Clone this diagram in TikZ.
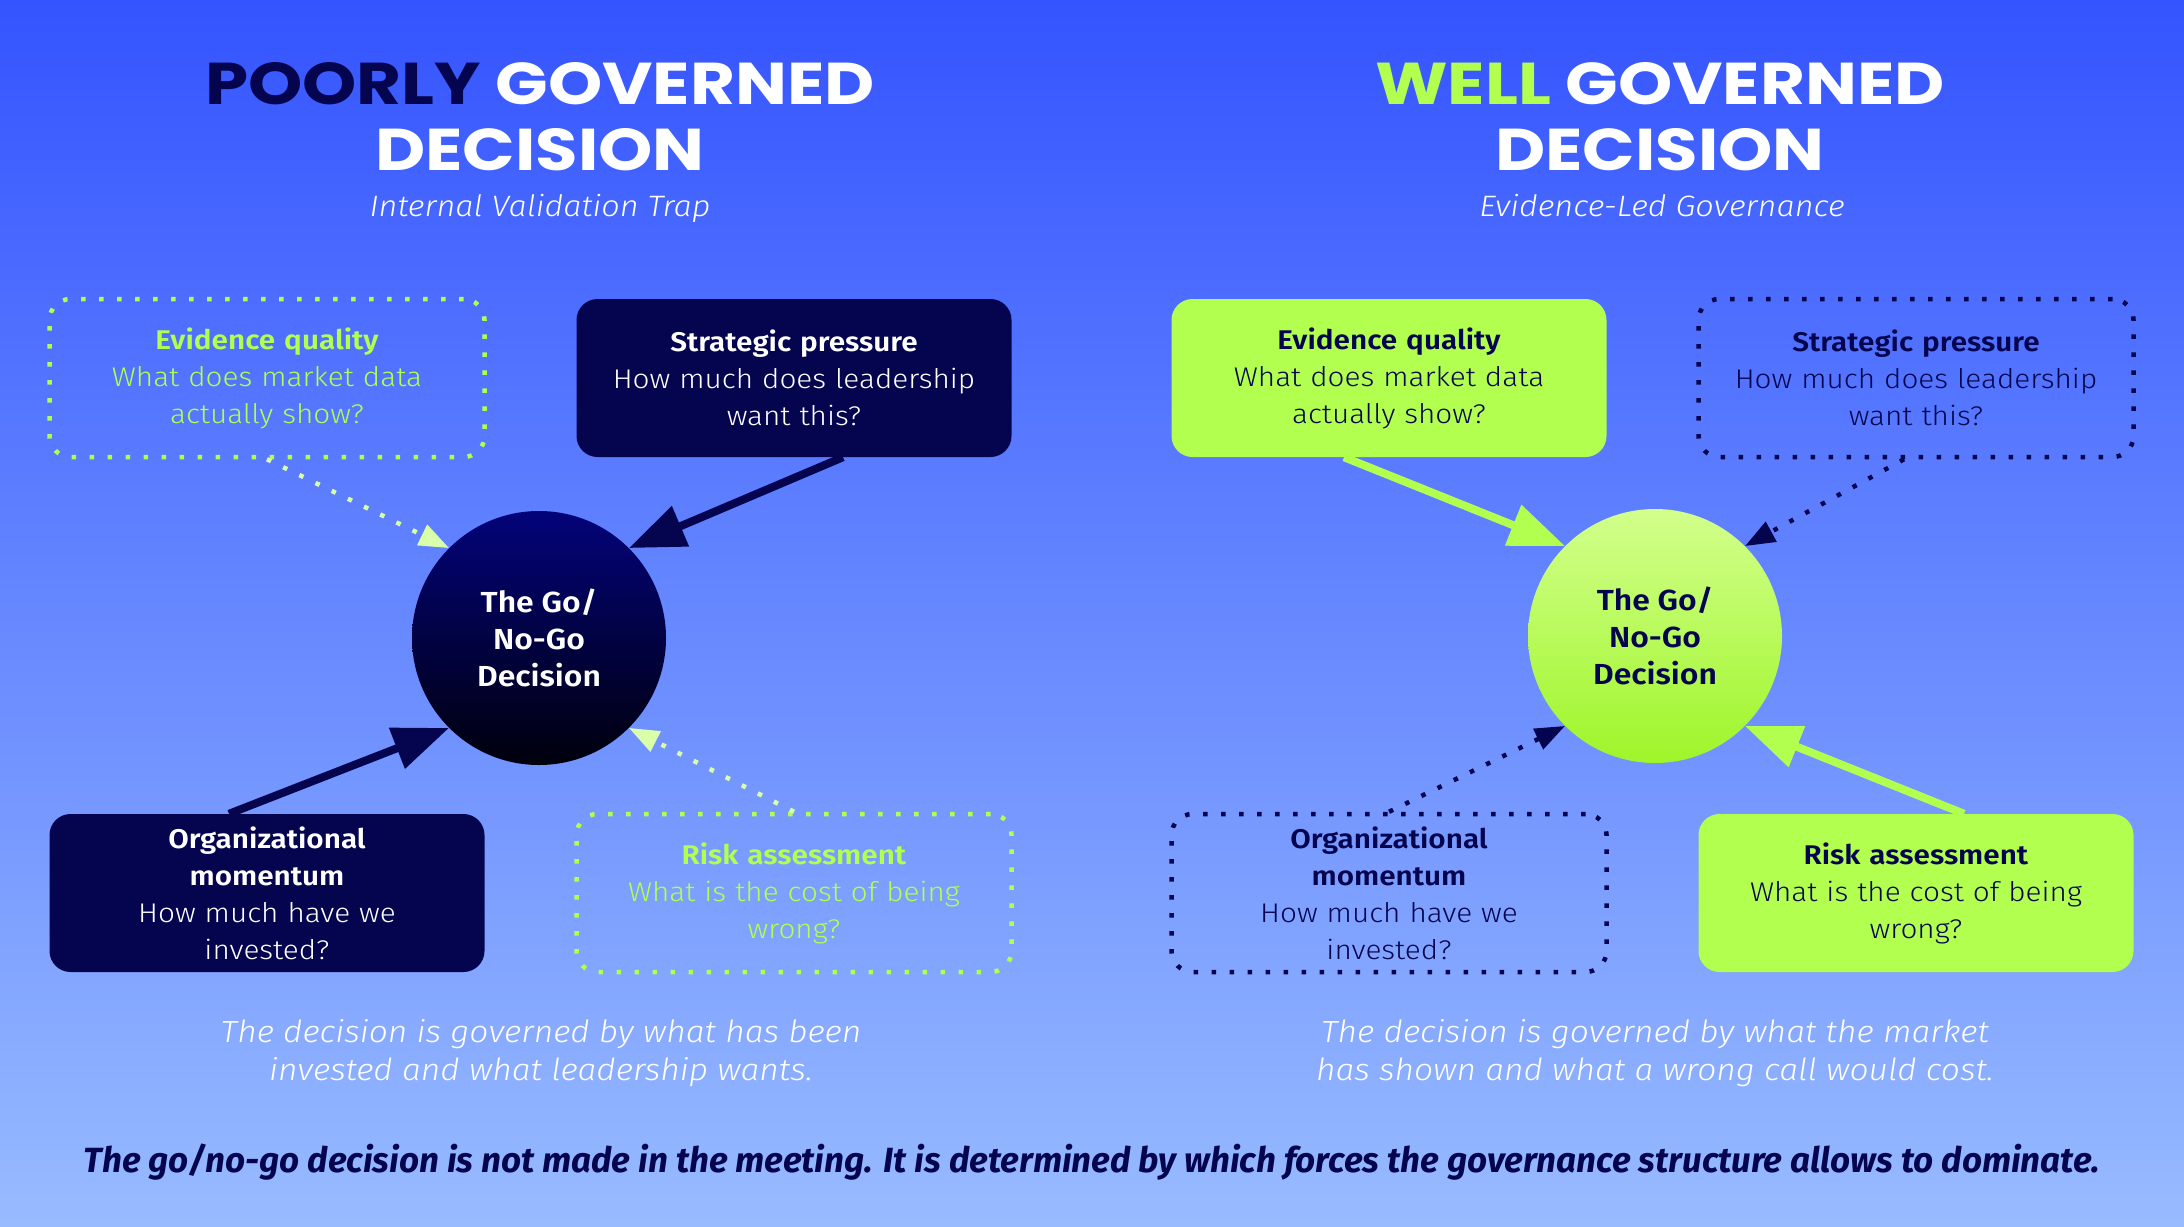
\documentclass[tikz,border=0pt]{standalone}
\usepackage{fontspec}
\setmainfont{Fira Sans}[UprightFont=* Light, ItalicFont=* Light Italic, BoldFont=* SemiBold, BoldItalicFont=* Bold Italic, FakeStretch=1.1]
\newfontfamily\footfont{Fira Sans}[BoldItalicFont=* Bold Italic]
\newfontfamily\titlefont{Poppins}[FakeStretch=1.17]
\usetikzlibrary{arrows.meta}
\definecolor{navy}{HTML}{05054F}
\definecolor{lime}{HTML}{B2FF4F}
\definecolor{palelime}{HTML}{DAFFAA}
\definecolor{bgtop}{HTML}{3454FF}
\definecolor{bgbot}{HTML}{98BBFF}
\definecolor{ctopdark}{HTML}{03037A}
\definecolor{cbotdark}{HTML}{00000C}
\definecolor{ctoplime}{HTML}{D2FF8C}
\definecolor{cbotlime}{HTML}{9FF52A}
\begin{document}
\begin{tikzpicture}[x=1pt,y=-1pt,
  boxbase/.style={rounded corners=21pt, minimum width=435pt, minimum height=158pt, inner sep=0pt, text width=420pt, align=center, font=\fontsize{27}{37}\selectfont},
  navybox/.style={boxbase, fill=navy, text=white},
  limebox/.style={boxbase, fill=lime, text=navy},
  dotlimebox/.style={boxbase, draw=lime, line width=4.5pt, dash pattern=on 4.5pt off 13.5pt, text=lime},
  dotnavybox/.style={boxbase, draw=navy, line width=4.5pt, dash pattern=on 4.5pt off 13.5pt, text=navy},
  decision/.style={circle, minimum size=254pt, inner sep=0pt, align=center, font=\bfseries\fontsize{29}{37}\selectfont},
  solidnavy/.style={draw=navy, line width=8pt, -{Triangle[length=56pt,width=42pt]}},
  solidlime/.style={draw=lime, line width=8pt, -{Triangle[length=56pt,width=42pt]}},
  dotpale/.style={draw=palelime, line width=4.5pt, dash pattern=on 4.5pt off 13.5pt, -{Triangle[length=30pt,width=22pt,fill=palelime]}},
  dotnavy/.style={draw=navy, line width=4.5pt, dash pattern=on 4.5pt off 13.5pt, -{Triangle[length=30pt,width=22pt,fill=navy]}},
  titletext/.style={anchor=base, inner sep=0pt, text=white, font=\titlefont\bfseries\fontsize{59}{59}\selectfont},
  subtitle/.style={anchor=base, inner sep=0pt, text=white, font=\itshape\fontsize{29.5}{34}\selectfont},
  summary/.style={inner sep=0pt, align=center, text=white, font=\itshape\fontsize{30.5}{38}\selectfont}
]
\shade[top color=bgtop, bottom color=bgbot] (0,0) rectangle (2184,1226);
\useasboundingbox (0,0) rectangle (2184,1226);

% Titles
\node[titletext] (lt1) at (540,104) {\textcolor{navy}{POORLY} GOVERNED};
\node[titletext] (lt2) at (540,170) {DECISION};
\node[subtitle] (lst) at (540,216) {Internal Validation Trap};
\node[titletext] (rt1) at (1660,104) {\textcolor{lime}{WELL} GOVERNED};
\node[titletext] (rt2) at (1660,170) {DECISION};
\node[subtitle] (rst) at (1662,216) {Evidence-Led Governance};

% Left side
\node[dotlimebox] (leq) at (267,378) {\textbf{Evidence quality}\\What does market data\\actually show?};
\node[navybox] (lsp) at (794,378) {\textbf{Strategic pressure}\\How much does leadership\\want this?};
\node[navybox] (lom) at (267,893) {\textbf{Organizational}\\\textbf{momentum}\\How much have we\\invested?};
\node[dotlimebox] (lra) at (794,893) {\textbf{Risk assessment}\\What is the cost of being\\wrong?};
\node[decision, top color=ctopdark, bottom color=cbotdark, text=white] (lc) at (539,638) {The Go/\\No-Go\\Decision};

\draw[dotpale] (leq.south) -- (lc.north west);
\draw[solidnavy] ([xshift=49pt]lsp.south) -- (lc.north east);
\draw[solidnavy] ([xshift=-38pt]lom.north) -- (lc.south west);
\draw[dotpale] (lra.north) -- (lc.south east);

% Right side
\node[limebox] (req) at (1389,378) {\textbf{Evidence quality}\\What does market data\\actually show?};
\node[dotnavybox] (rsp) at (1916,378) {\textbf{Strategic pressure}\\How much does leadership\\want this?};
\node[dotnavybox] (rom) at (1389,893) {\textbf{Organizational}\\\textbf{momentum}\\How much have we\\invested?};
\node[limebox] (rra) at (1916,893) {\textbf{Risk assessment}\\What is the cost of being\\wrong?};
\node[decision, top color=ctoplime, bottom color=cbotlime, text=navy] (rc) at (1655,636) {The Go/\\No-Go\\Decision};

\draw[solidlime] ([xshift=-45pt]req.south) -- (rc.north west);
\draw[dotnavy] ([xshift=-12pt]rsp.south) -- (rc.north east);
\draw[dotnavy] (rom.north) -- (rc.south west);
\draw[solidlime] ([xshift=48pt]rra.north) -- (rc.south east);

% Summaries
\node[summary] (ls) at (541,1053) {The decision is governed by what has been\\invested and what leadership wants.};
\node[summary] (rs) at (1655,1053) {The decision is governed by what the market\\has shown and what a wrong call would cost.};
\node[anchor=base, inner sep=0pt, text=navy, font=\footfont\bfseries\itshape\fontsize{35}{40}\selectfont] (foot) at (1092,1172) {The go/no-go decision is not made in the meeting. It is determined by which forces the governance structure allows to dominate.};
\end{tikzpicture}
\end{document}
